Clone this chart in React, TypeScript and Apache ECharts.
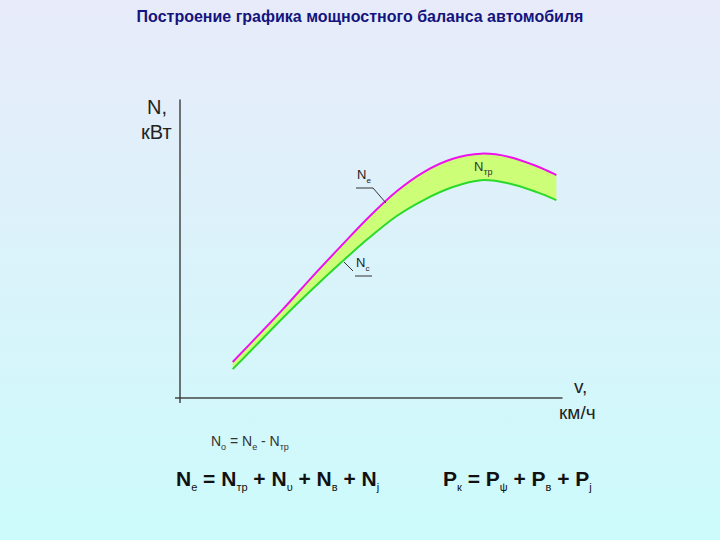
import React, { useEffect, useRef } from "react";
import * as echarts from "echarts";

// Vehicle speed, km/h (arbitrary scale)
const speed = [28, 40, 55, 70, 85, 100, 115, 130, 145, 160, 175, 190, 200];
// Engine power Ne, kW
const powerNe = [12.1, 20.0, 30.0, 40.5, 50.6, 60.5, 69.3, 76.0, 80.3, 82.0, 80.9, 77.7, 74.8];
// Power at wheels Nc, kW
const powerNc = [9.7, 17.4, 27.1, 36.3, 45.1, 53.5, 61.0, 66.6, 70.8, 73.1, 72.0, 69.0, 66.4];

const title = "Построение графика мощностного баланса автомобиля";
const FONT = "'Liberation Sans', Arial, sans-serif";
const BG_TOP = "#e8ebf9";
const BG_BOTTOM = "#ccfbfb";
const NE_COLOR = "#ee11ee";
const NC_COLOR = "#2bd92b";
const BAND_COLOR = "#ccff77";
const AXIS_COLOR = "#474747";

type P = number[];

// Catmull-Rom spline through pixel points -> cubic bezier commands (without the initial move)
function curveSegments(pts: P[]): string {
  let d = "";
  for (let i = 0; i < pts.length - 1; i++) {
    const p0 = pts[Math.max(0, i - 1)];
    const p1 = pts[i];
    const p2 = pts[i + 1];
    const p3 = pts[Math.min(pts.length - 1, i + 2)];
    const c1x = p1[0] + (p2[0] - p0[0]) / 6;
    const c1y = p1[1] + (p2[1] - p0[1]) / 6;
    const c2x = p2[0] - (p3[0] - p1[0]) / 6;
    const c2y = p2[1] - (p3[1] - p1[1]) / 6;
    d += ` C${c1x.toFixed(2)},${c1y.toFixed(2)} ${c2x.toFixed(2)},${c2y.toFixed(2)} ${p2[0].toFixed(2)},${p2[1].toFixed(2)}`;
  }
  return d;
}

export default function App() {
  const ref = useRef<HTMLDivElement>(null);
  useEffect(() => {
    if (!ref.current) return;
    const chart = echarts.init(ref.current, null, { renderer: "svg" });
    const sub = (size: number, bold = false) => ({
      fontSize: size,
      fontFamily: FONT,
      fontWeight: bold ? "bold" : "normal",
      verticalAlign: "bottom",
      lineHeight: size + 2,
    });
    const main = (size: number, bold = false) => ({
      fontSize: size,
      fontFamily: FONT,
      fontWeight: bold ? "bold" : "normal",
      verticalAlign: "middle",
      lineHeight: size + 6,
    });
    const bgGradient = new echarts.graphic.LinearGradient(0, 0, 0, 1, [
      { offset: 0, color: BG_TOP },
      { offset: 1, color: BG_BOTTOM },
    ]);
    const Z = 20;
    chart.setOption({
      animation: false,
      backgroundColor: bgGradient,
      grid: { left: 180, right: 158, top: 100, bottom: 142 },
      xAxis: {
        type: "value",
        min: 0,
        max: 203,
        z: 10,
        axisLine: { show: true, lineStyle: { color: AXIS_COLOR, width: 1.5 } },
        axisTick: { show: false },
        axisLabel: { show: false },
        splitLine: { show: false },
      },
      yAxis: {
        type: "value",
        min: 0,
        max: 100,
        z: 10,
        axisLine: { show: true, lineStyle: { color: AXIS_COLOR, width: 1.5 } },
        axisTick: { show: false },
        axisLabel: { show: false },
        splitLine: { show: false },
      },
      series: [
        {
          type: "custom",
          name: "power balance",
          encode: { x: 0, y: [1, 2] },
          data: speed.map((v, i) => [v, powerNe[i], powerNc[i]]),
          renderItem: (params: any, api: any) => {
            if (params.dataIndex !== 0) return null;
            const ne = speed.map((v, i) => api.coord([v, powerNe[i]]));
            const nc = speed.map((v, i) => api.coord([v, powerNc[i]]));
            const ncRev = nc.slice().reverse();
            const neD = `M${ne[0][0]},${ne[0][1]}` + curveSegments(ne);
            const ncD = `M${nc[0][0]},${nc[0][1]}` + curveSegments(nc);
            const bandD =
              neD +
              ` L${ncRev[0][0]},${ncRev[0][1]}` +
              curveSegments(ncRev) +
              " Z";
            return {
              type: "group",
              children: [
                {
                  type: "path",
                  shape: { pathData: bandD },
                  style: { fill: BAND_COLOR, stroke: null },
                },
                {
                  type: "path",
                  shape: { pathData: ncD },
                  style: { fill: null, stroke: NC_COLOR, lineWidth: 2 },
                },
                {
                  type: "path",
                  shape: { pathData: neD },
                  style: { fill: null, stroke: NE_COLOR, lineWidth: 2 },
                },
              ],
            };
          },
        },
      ],
      graphic: [
        {
          type: "text",
          x: 360,
          y: 16,
          z: Z,
          style: {
            text: title,
            fill: "#14147e",
            font: `bold 16px ${FONT}`,
            textAlign: "center",
            textVerticalAlign: "middle",
          },
        },
        // small axis overhangs at the origin
        { type: "line", z: Z, shape: { x1: 175, y1: 398, x2: 181, y2: 398 }, style: { stroke: AXIS_COLOR, lineWidth: 1.5 } },
        { type: "line", z: Z, shape: { x1: 180, y1: 397, x2: 180, y2: 403 }, style: { stroke: AXIS_COLOR, lineWidth: 1.5 } },
        { type: "text", z: Z, x: 147, y: 97, style: { text: "N,", fill: "#222", font: `20px ${FONT}` } },
        { type: "text", z: Z, x: 141, y: 122, style: { text: "кВт", fill: "#222", font: `20px ${FONT}` } },
        { type: "text", z: Z, x: 574, y: 377, style: { text: "v,", fill: "#222", font: `19px ${FONT}` } },
        { type: "text", z: Z, x: 559, y: 403, style: { text: "км/ч", fill: "#222", font: `19px ${FONT}` } },
        // Ne label
        {
          type: "text",
          z: Z,
          x: 357,
          y: 165,
          style: {
            text: "{n|N}{s|е}",
            rich: { n: { ...main(13), fill: "#222" }, s: { ...sub(8), fill: "#222" } },
          },
        },
        { type: "line", z: Z, shape: { x1: 356, y1: 188, x2: 373, y2: 188 }, style: { stroke: "#333", lineWidth: 1 } },
        { type: "line", z: Z, shape: { x1: 373, y1: 188, x2: 386, y2: 203 }, style: { stroke: "#333", lineWidth: 1 } },
        // Nc label
        {
          type: "text",
          z: Z,
          x: 356,
          y: 253,
          style: {
            text: "{n|N}{s|с}",
            rich: { n: { ...main(13), fill: "#222" }, s: { ...sub(8), fill: "#222" } },
          },
        },
        { type: "line", z: Z, shape: { x1: 355, y1: 276, x2: 372, y2: 276 }, style: { stroke: "#333", lineWidth: 1 } },
        { type: "line", z: Z, shape: { x1: 344, y1: 262, x2: 353, y2: 271 }, style: { stroke: "#333", lineWidth: 1 } },
        // Ntr label
        {
          type: "text",
          x: 474,
          y: 157,
          z: Z,
          style: {
            text: "{n|N}{s|тр}",
            rich: { n: { ...main(13), fill: "#333" }, s: { ...sub(9), fill: "#333" } },
          },
        },
        // formula 1
        {
          type: "text",
          z: Z,
          x: 211,
          y: 431,
          style: {
            text: "{n|N}{s|о}{n| = N}{s|е}{n| - N}{s|тр}",
            rich: { n: { ...main(14), fill: "#333" }, s: { ...sub(9), fill: "#333" } },
          },
        },
        // formula 2
        {
          type: "text",
          z: Z,
          x: 176,
          y: 465,
          style: {
            text: "{n|N}{s|е}{n| = N}{s|тр}{n| + N}{s|υ}{n| + N}{s|в}{n| + N}{s|j}",
            rich: { n: { ...main(21, true), fill: "#111" }, s: { ...sub(11), fill: "#111" } },
          },
        },
        // formula 3
        {
          type: "text",
          z: Z,
          x: 443,
          y: 465,
          style: {
            text: "{n|P}{s|к}{n| = P}{s|ψ}{n| + P}{s|в}{n| + P}{s|j}",
            rich: { n: { ...main(21, true), fill: "#111" }, s: { ...sub(11), fill: "#111" } },
          },
        },
      ],
    });
    return () => chart.dispose();
  }, []);
  return (
    <div
      ref={ref}
      style={{ position: "fixed", left: 0, top: 0, width: 720, height: 540 }}
    />
  );
}
